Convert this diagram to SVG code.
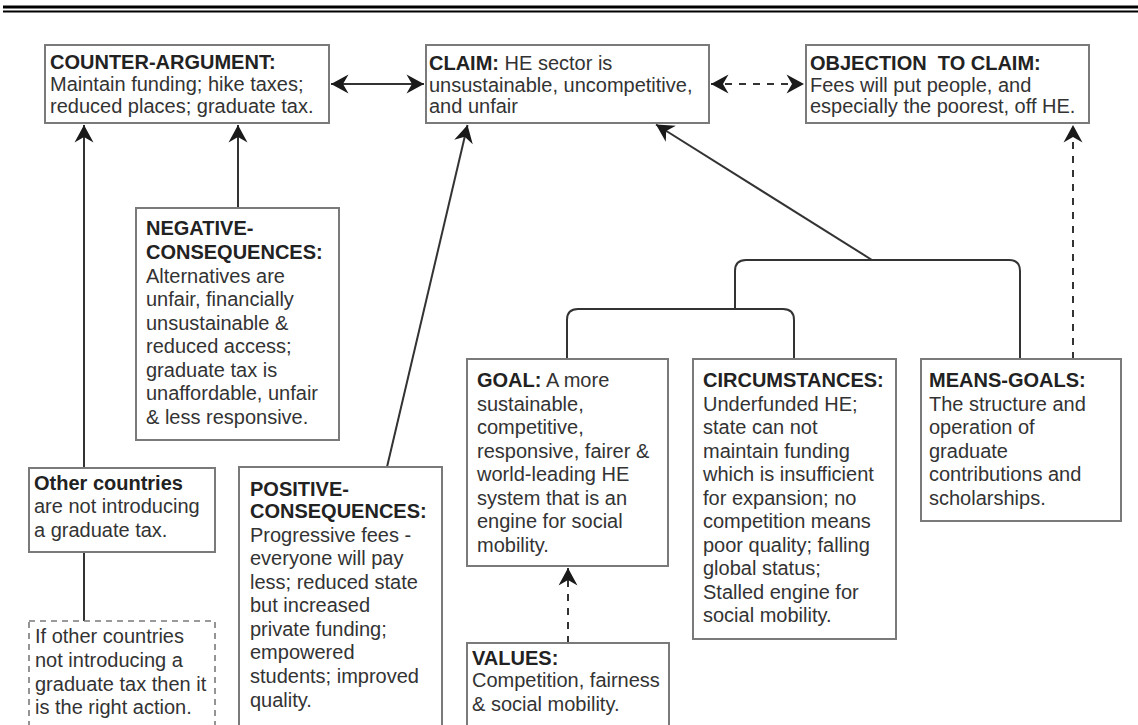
<svg xmlns="http://www.w3.org/2000/svg" width="1138" height="725" viewBox="0 0 1138 725">
  <style>
    .box { fill: #ffffff; stroke: #7a7a7a; stroke-width: 2; }
    .dbox { fill: #ffffff; stroke: #7a7a7a; stroke-width: 1.6; stroke-dasharray: 6 5; }
    .t { font-family: "Liberation Sans", Arial, sans-serif; font-size: 20px; fill: #333333; }
    .b { font-weight: bold; fill: #222222; }
    .ln { fill: none; stroke: #333333; stroke-width: 2; }
    .dash { stroke-dasharray: 7 7; }
    .rule { stroke: #000000; }
  </style>
  <defs>
    <marker id="arrow" viewBox="-19 -11 21 22" refX="0" refY="0" markerWidth="21" markerHeight="22" markerUnits="userSpaceOnUse" orient="auto-start-reverse">
      <path d="M0,0 L-17.5,-9.5 L-12,0 L-17.5,9.5 Z" fill="#1a1a1a"/>
    </marker>
  </defs>

  <rect width="1138" height="725" fill="#ffffff"/>

  <!-- page header rules -->
  <line class="rule" x1="3" y1="7" x2="1138" y2="7" stroke-width="3"/>
  <line class="rule" x1="3" y1="11.5" x2="1138" y2="11.5" stroke-width="2"/>

  <!-- connectors -->
  <g id="connectors">
    <line class="ln" x1="331" y1="84" x2="424" y2="84" marker-start="url(#arrow)" marker-end="url(#arrow)"/>
    <line class="ln dash" x1="711" y1="84" x2="804" y2="84" marker-start="url(#arrow)" marker-end="url(#arrow)"/>
    <line class="ln" x1="84" y1="468" x2="84" y2="125" marker-end="url(#arrow)"/>
    <line class="ln" x1="238" y1="208" x2="238" y2="125" marker-end="url(#arrow)"/>
    <line class="ln" x1="387" y1="467" x2="467.5" y2="125" marker-end="url(#arrow)"/>
    <line class="ln" x1="872" y1="260" x2="656" y2="124.5" marker-end="url(#arrow)"/>
    <line class="ln dash" x1="1073" y1="359" x2="1073" y2="125" marker-end="url(#arrow)"/>
    <line class="ln dash" x1="568" y1="643" x2="568" y2="568" marker-end="url(#arrow)"/>
    <line class="ln" x1="84" y1="552" x2="84" y2="621"/>
    <path class="ln" d="M735,309 V271 Q735,260 746,260 H1009 Q1020,260 1020,271 V359"/>
    <path class="ln" d="M567,359 V320 Q567,309 578,309 H783 Q794,309 794,320 V359"/>
  </g>

  <g id="counter-argument">
    <rect class="box" x="45" y="45" width="284" height="78"/>
    <text class="t"><tspan class="b" x="50" y="69">COUNTER-ARGUMENT:</tspan><tspan x="50" y="91">Maintain funding; hike taxes;</tspan><tspan x="50" y="113">reduced places; graduate tax.</tspan></text>
  </g>

  <g id="claim">
    <rect class="box" x="426" y="45" width="283" height="78"/>
    <text class="t"><tspan class="b" x="429" y="70">CLAIM:</tspan><tspan> HE sector is</tspan><tspan x="429" y="92">unsustainable, uncompetitive,</tspan><tspan x="429" y="113">and unfair</tspan></text>
  </g>

  <g id="objection">
    <rect class="box" x="806" y="45" width="283" height="78"/>
    <text class="t"><tspan class="b" x="810" y="70" xml:space="preserve">OBJECTION  TO CLAIM:</tspan><tspan x="810" y="91.5">Fees will put people, and</tspan><tspan x="810" y="113">especially the poorest, off HE.</tspan></text>
  </g>

  <g id="negative-consequences">
    <rect class="box" x="136" y="208" width="203" height="232"/>
    <text class="t"><tspan class="b" x="146" y="235">NEGATIVE-</tspan><tspan class="b" x="146" y="259">CONSEQUENCES:</tspan><tspan x="146" y="283">Alternatives are</tspan><tspan x="146" y="306">unfair, financially</tspan><tspan x="146" y="330">unsustainable &amp;</tspan><tspan x="146" y="353">reduced access;</tspan><tspan x="146" y="377">graduate tax is</tspan><tspan x="146" y="400">unaffordable, unfair</tspan><tspan x="146" y="424">&amp; less responsive.</tspan></text>
  </g>

  <g id="other-countries">
    <rect class="box" x="29" y="468" width="186" height="84"/>
    <text class="t"><tspan class="b" x="34" y="490">Other countries</tspan><tspan x="34" y="513">are not introducing</tspan><tspan x="34" y="537">a graduate tax.</tspan></text>
  </g>

  <g id="warrant">
    <rect class="dbox" x="29" y="621" width="186" height="120"/>
    <text class="t"><tspan x="35" y="643">If other countries</tspan><tspan x="35" y="667">not introducing a</tspan><tspan x="35" y="691">graduate tax then it</tspan><tspan x="35" y="714">is the right action.</tspan></text>
  </g>

  <g id="positive-consequences">
    <rect class="box" x="239" y="467" width="203" height="275"/>
    <text class="t"><tspan class="b" x="250" y="496">POSITIVE-</tspan><tspan class="b" x="250" y="518">CONSEQUENCES:</tspan><tspan x="250" y="542">Progressive fees -</tspan><tspan x="250" y="565">everyone will pay</tspan><tspan x="250" y="589">less; reduced state</tspan><tspan x="250" y="612">but increased</tspan><tspan x="250" y="636">private funding;</tspan><tspan x="250" y="659">empowered</tspan><tspan x="250" y="683">students; improved</tspan><tspan x="250" y="707">quality.</tspan></text>
  </g>

  <g id="goal">
    <rect class="box" x="467" y="359" width="201" height="207"/>
    <text class="t"><tspan class="b" x="477" y="387">GOAL:</tspan><tspan> A more</tspan><tspan x="477" y="410.5">sustainable,</tspan><tspan x="477" y="434">competitive,</tspan><tspan x="477" y="457.5">responsive, fairer &amp;</tspan><tspan x="477" y="481">world-leading HE</tspan><tspan x="477" y="504.5">system that is an</tspan><tspan x="477" y="528">engine for social</tspan><tspan x="477" y="551.5">mobility.</tspan></text>
  </g>

  <g id="circumstances">
    <rect class="box" x="693" y="359" width="203" height="280"/>
    <text class="t"><tspan class="b" x="703" y="387">CIRCUMSTANCES:</tspan><tspan x="703" y="410.5">Underfunded HE;</tspan><tspan x="703" y="434">state can not</tspan><tspan x="703" y="457.5">maintain funding</tspan><tspan x="703" y="481">which is insufficient</tspan><tspan x="703" y="504.5">for expansion; no</tspan><tspan x="703" y="528">competition means</tspan><tspan x="703" y="551.5">poor quality; falling</tspan><tspan x="703" y="575">global status;</tspan><tspan x="703" y="598.5">Stalled engine for</tspan><tspan x="703" y="622">social mobility.</tspan></text>
  </g>

  <g id="means-goals">
    <rect class="box" x="921" y="359" width="200" height="162"/>
    <text class="t"><tspan class="b" x="929" y="387">MEANS-GOALS:</tspan><tspan x="929" y="410.5">The structure and</tspan><tspan x="929" y="434">operation of</tspan><tspan x="929" y="457.5">graduate</tspan><tspan x="929" y="481">contributions and</tspan><tspan x="929" y="504.5">scholarships.</tspan></text>
  </g>

  <g id="values">
    <rect class="box" x="467" y="643" width="202" height="100"/>
    <text class="t"><tspan class="b" x="472" y="665">VALUES:</tspan><tspan x="472" y="687">Competition, fairness</tspan><tspan x="472" y="711">&amp; social mobility.</tspan></text>
  </g>
</svg>
